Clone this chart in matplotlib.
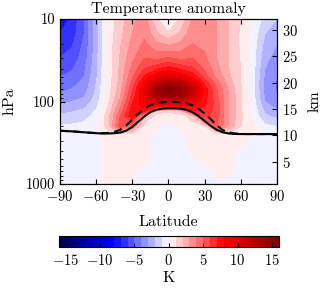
import numpy as np
import matplotlib
matplotlib.use("Agg")
import matplotlib.pyplot as plt
import matplotlib.ticker as mticker

plt.rcParams.update({
    "font.family": "serif",
    "font.serif": ["cmr10"],
    "mathtext.fontset": "cm",
    "axes.formatter.use_mathtext": True,
    "axes.unicode_minus": True,
    "font.size": 10.5,
    "xtick.direction": "in",
    "ytick.direction": "in",
})

# latitude grid of the field (deg) and pressure levels (hPa)
lat = [-90, -80, -70, -60, -50, -40, -30, -20, -10, 0, 10, 20, 30, 40, 50, 60, 70, 80, 90]
pres = [10, 15, 20, 30, 40, 50, 60, 70, 85, 100, 115, 130, 150, 200, 250, 300, 400, 500, 700, 1000]

# temperature anomaly (K), one row per latitude, values at the pressure levels above
temp_anom = [
    [-7.6, -7.0, -6.5, -6.0, -5.5, -5.0, -4.6, -4.3, -3.8, -3.3, -2.8, -2.3, -1.8, -0.9, -0.4, -0.4, -0.4, -0.4, -0.4, -0.4],
    [-6.8, -6.5, -6.1, -5.6, -5.1, -4.7, -4.3, -4.0, -3.5, -3.0, -2.5, -2.1, -1.6, -0.8, -0.4, -0.4, -0.4, -0.4, -0.4, -0.4],
    [-5.0, -5.0, -4.8, -4.5, -4.2, -4.0, -3.7, -3.5, -3.1, -2.7, -2.2, -1.8, -1.4, -0.6, -0.3, -0.4, -0.4, -0.4, -0.4, -0.4],
    [-2.5, -2.5, -2.5, -2.4, -2.3, -2.2, -2.0, -1.9, -1.7, -1.5, -1.2, -0.9, -0.6, -0.2, -0.2, -0.3, -0.3, -0.3, -0.3, -0.3],
    [0.3, 0.4, 0.4, 0.4, 0.4, 0.4, 0.4, 0.5, 0.6, 0.8, 1.0, 1.3, 1.6, 1.5, 0.4, 0.4, 0.4, 0.4, 0.4, 0.3],
    [1.5, 1.7, 1.9, 2.1, 2.2, 2.3, 2.4, 2.6, 2.9, 3.3, 3.8, 4.3, 5.0, 5.5, 0.6, 0.5, 0.5, 0.5, 0.5, 0.3],
    [2.8, 3.0, 3.3, 3.8, 4.3, 4.8, 5.3, 5.8, 6.3, 6.8, 7.3, 7.6, 7.8, 4.0, 0.5, 0.5, 0.5, 0.4, 0.3, -0.3],
    [3.5, 3.8, 4.2, 5.0, 6.0, 7.2, 8.5, 9.2, 9.3, 9.0, 8.3, 7.3, 2.0, 0.4, 0.3, 0.3, 0.4, 0.4, -0.3, -0.4],
    [1.2, 2.2, 3.2, 4.8, 6.8, 9.0, 12.0, 14.0, 13.5, 10.5, 7.5, 1.5, 0.5, 0.2, -0.3, -0.4, -0.3, -0.4, -0.4, -0.4],
    [-0.5, 1.2, 2.8, 5.2, 7.5, 10.0, 13.5, 15.6, 14.5, 10.5, 7.0, 1.2, 0.3, -0.3, -0.4, -0.4, -0.4, -0.4, -0.4, -0.4],
    [1.2, 2.2, 3.2, 4.8, 6.8, 9.2, 12.5, 14.5, 14.0, 10.5, 7.5, 1.8, 0.5, 0.2, -0.3, -0.4, -0.4, -0.4, -0.4, -0.4],
    [3.2, 3.6, 4.0, 5.0, 6.2, 7.8, 10.0, 11.5, 10.5, 9.0, 8.0, 7.0, 1.5, 0.5, 0.3, 0.4, 0.3, -0.3, -0.4, -0.4],
    [3.5, 3.6, 3.8, 4.2, 4.8, 5.5, 6.8, 7.5, 7.5, 7.3, 7.0, 6.7, 6.3, 0.8, 0.5, 0.5, 0.5, 0.3, -0.3, -0.4],
    [3.0, 3.0, 3.0, 3.0, 3.3, 3.7, 4.5, 5.0, 5.2, 5.5, 5.5, 5.5, 5.5, 5.0, 0.6, 0.5, 0.5, 0.5, 0.3, -0.3],
    [2.0, 2.0, 2.0, 2.0, 2.0, 2.2, 2.5, 2.8, 3.0, 3.0, 3.0, 3.0, 3.0, 2.8, 0.5, 0.5, 0.5, 0.5, 0.3, -0.4],
    [1.0, 0.8, 0.8, 0.9, 1.0, 1.0, 1.0, 1.1, 1.1, 1.1, 1.1, 1.1, 1.2, 1.0, 0.4, 0.3, -0.3, -0.4, -0.4, -0.4],
    [0.0, -0.3, -0.5, -0.5, -0.6, -0.7, -0.7, -0.7, -0.6, -0.5, -0.4, -0.3, -0.2, 0.3, 0.3, -0.3, -0.4, -0.4, -0.4, -0.4],
    [-1.5, -2.0, -2.3, -2.7, -3.0, -3.2, -3.3, -3.3, -3.2, -3.0, -2.6, -2.2, -1.8, -0.8, -0.4, -0.4, -0.4, -0.4, -0.4, -0.4],
    [-2.0, -2.5, -3.0, -3.5, -3.8, -4.0, -4.1, -4.1, -4.0, -3.7, -3.3, -2.8, -2.3, -1.0, -0.4, -0.4, -0.4, -0.4, -0.4, -0.4],
]

# tropopause pressure (hPa), control (solid) and perturbed (dashed)
trop_lat = list(range(-90, 91, 5))
trop_ctrl = [226, 228, 230, 233, 236, 239, 242, 244, 244, 242, 238, 225, 203, 175, 152, 134, 126, 122, 121,
             121, 122, 126, 135, 150, 172, 197, 220, 236, 244, 247, 248, 248, 248, 248, 248, 248, 248]
trop_pert = [226, 228, 230, 233, 236, 239, 241, 242, 240, 233, 220, 195, 165, 140, 122, 110, 105, 102, 101,
             101, 102, 105, 111, 123, 140, 163, 195, 222, 237, 244, 247, 248, 248, 248, 248, 248, 248]

km_ticks = [5, 10, 15, 20, 25, 30]

fig = plt.figure(figsize=(3.2, 2.88), dpi=100)
ax = fig.add_axes([0.1875, 0.361, 0.678, 0.573])
cax = fig.add_axes([0.184, 0.1424, 0.687, 0.038])

levels = np.arange(-16, 17, 1)
cf = ax.contourf(lat, pres, np.array(temp_anom).T, levels=levels, cmap="seismic")
ax.plot(trop_lat, trop_ctrl, "k-", lw=1.5)
ax.plot(trop_lat, trop_pert, "k--", lw=1.5, dashes=(4, 2.5))

ax.set_yscale("log")
ax.set_ylim(1000, 10)
ax.set_xlim(-90, 90)
ax.set_xticks([-90, -60, -30, 0, 30, 60, 90])
ax.set_yticks([10, 100, 1000])
ax.yaxis.set_major_formatter(mticker.FixedFormatter(["10", "100", "1000"]))
ax.yaxis.set_minor_formatter(mticker.NullFormatter())
ax.xaxis.set_ticks_position("both")
ax.set_title("Temperature anomaly", fontsize=11.5, pad=4.5)
ax.set_xlabel("Latitude", fontsize=11.5, labelpad=8)
ax.set_ylabel("hPa", fontsize=11.5, labelpad=7)

ax2 = ax.twinx()
ax2.set_ylim(0.77, 32.09)
ax2.set_yticks(km_ticks)
ax2.set_ylabel("km", fontsize=11.5, labelpad=7)

cb = fig.colorbar(cf, cax=cax, orientation="horizontal", ticks=[-15, -10, -5, 0, 5, 10, 15])
cb.ax.tick_params(direction="in", length=3, pad=4)
cb.set_label("K", fontsize=11.5, labelpad=2.5)

fig.savefig("out.png", dpi=100)
